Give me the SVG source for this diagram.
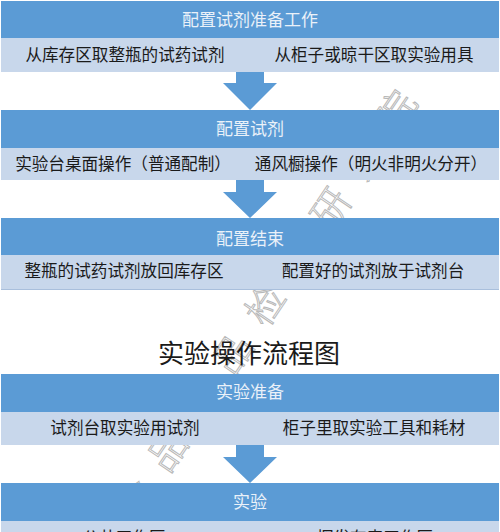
<svg xmlns="http://www.w3.org/2000/svg" width="500" height="532" viewBox="0 0 500 532">
<style>
.hd{fill:#5b9bd5}
.lt{fill:#c8d7eb}
.ln{stroke:#a9bfdc;stroke-width:1}
.ar{fill:#5b9bd5}
text{font-family:"Noto Sans CJK SC","Liberation Sans",sans-serif}
.ht{font-size:17px;fill:#eaf1f9;text-anchor:middle}
.rt{font-size:16.6px;fill:#1a1a1a;text-anchor:middle}
.ti{font-size:26px;fill:#1a1a1a;text-anchor:middle}
.wm{font-size:38px;font-weight:300;fill:none;stroke:#b8b8b8;stroke-width:1;letter-spacing:20.6px}
</style>
<rect width="500" height="532" fill="#ffffff"/>
<g id="watermark">
<text class="wm" transform="translate(135,500) rotate(-56)" x="-19" y="13">食品药品检验研究院</text>
</g>
<g id="title"><text class="ti" x="249" y="363">实验操作流程图</text></g>
<g id="stage1">
<rect class="hd" x="1" y="1" width="498" height="37"/>
<text class="ht" x="250" y="25.5">配置试剂准备工作</text>
<rect class="lt" x="1" y="38" width="498" height="34"/>
<text class="rt" x="125" y="61">从库存区取整瓶的试药试剂</text>
<text class="rt" x="374" y="61">从柜子或晾干区取实验用具</text>
</g>
<g id="stage2">
<rect class="hd" x="1" y="110" width="498" height="38"/>
<text class="ht" x="250" y="135">配置试剂</text>
<rect class="lt" x="1" y="148" width="498" height="32"/>
<text class="rt" x="123" y="170">实验台桌面操作（普通配制）</text>
<text class="rt" x="371" y="170">通风橱操作（明火非明火分开）</text>
</g>
<g id="stage3">
<rect class="hd" x="1" y="218" width="498" height="37"/>
<text class="ht" x="250" y="244.5">配置结束</text>
<rect class="lt" x="1" y="255" width="498" height="35"/>
<line class="ln" x1="1" y1="289.5" x2="499" y2="289.5"/>
<text class="rt" x="124" y="277">整瓶的试药试剂放回库存区</text>
<text class="rt" x="373" y="277">配置好的试剂放于试剂台</text>
</g>
<g id="stage4">
<rect class="hd" x="1" y="374" width="498" height="38"/>
<text class="ht" x="250" y="398">实验准备</text>
<rect class="lt" x="1" y="412" width="498" height="33"/>
<text class="rt" x="125" y="434">试剂台取实验用试剂</text>
<text class="rt" x="374" y="434">柜子里取实验工具和耗材</text>
</g>
<g id="stage5">
<rect class="hd" x="1" y="483" width="498" height="38"/>
<text class="ht" x="250" y="507.5">实验</text>
<rect class="lt" x="1" y="521" width="498" height="11"/>
<text class="rt" x="124" y="544">公共工作区</text>
<text class="rt" x="375" y="544">挥发有毒工作区</text>
</g>
<g id="connectors">
<polygon class="ar" points="236,72 264,72 264,83 277,83 250,110 223,83 236,83"/>
<polygon class="ar" points="236,180 264,180 264,192 277,192 250,218 223,192 236,192"/>
<polygon class="ar" points="236,445 264,445 264,457 277,457 250,483 223,457 236,457"/>
</g>
</svg>
